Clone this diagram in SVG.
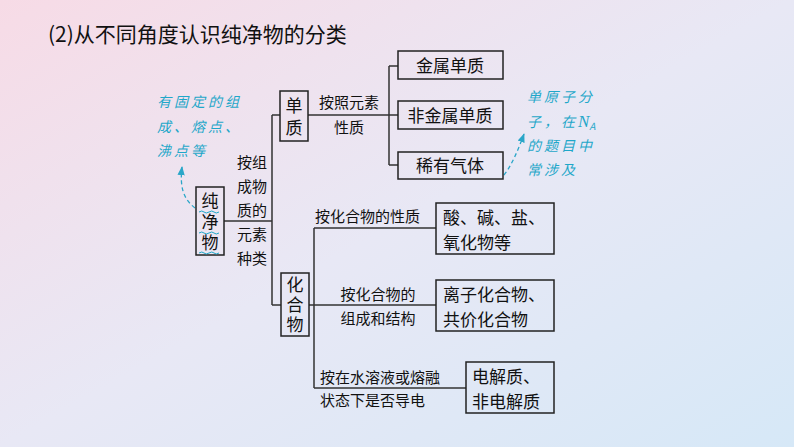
<svg xmlns="http://www.w3.org/2000/svg" width="794" height="447" viewBox="0 0 794 447">
<defs>
<linearGradient id="bg" x1="0" y1="0" x2="1" y2="1">
<stop offset="0" stop-color="#f7dbe6"/><stop offset="0.5" stop-color="#e8e8f5"/><stop offset="1" stop-color="#d6e8f7"/>
</linearGradient>
<marker id="ah" viewBox="0 0 10 10" refX="9" refY="5" markerWidth="7" markerHeight="7" orient="auto"><path d="M0,1 L10,5 L0,9 z" fill="#2aa6c8"/></marker>
<style>
.b{fill:none;stroke:#222;stroke-width:1.5}
.l{fill:none;stroke:#333;stroke-width:1.5}
.t{font-family:"Noto Sans CJK SC",sans-serif;font-size:17px;fill:#111}
.s{font-family:"Noto Sans CJK SC",sans-serif;font-size:15px;fill:#111}
.c{font-family:"Noto Sans CJK SC",sans-serif;font-size:14px;fill:#1fa7c9;font-style:italic;letter-spacing:3px}
.d{fill:none;stroke:#2aa6c8;stroke-width:1.3;stroke-dasharray:4 3}
</style>
</defs>
<rect width="794" height="447" fill="url(#bg)"/>
<text x="48" y="42" style="font-family:'Noto Sans CJK SC',sans-serif;font-size:21px;fill:#111">(2)从不同角度认识纯净物的分类</text>
<g id="connectors">
<path class="l" d="M224,221 H272 M272,115 V305 M272,115 H280 M272,305 H281 M308,115 H398 M389,66 V165 M389,66 H398 M389,165 H398 M309,305 H436 M314,228 V388 M314,228 H436 M314,388 H466"/>
<path class="d" d="M195,208 C182,198 180,185 182,167" marker-end="url(#ah)"/>
<path class="d" d="M504,175 C512,165 518,150 524,134" marker-end="url(#ah)"/>
</g>
<g id="chunjingwu"><rect class="b" x="196" y="187" width="28" height="68"/>
<text class="t" x="210" y="207" text-anchor="middle">纯</text><text class="t" x="210" y="228" text-anchor="middle">净</text><text class="t" x="210" y="249" text-anchor="middle">物</text>
<path d="M199,212 q3,-2 5,0 t5,0 t5,0 t5,0 M199,233 q3,-2 5,0 t5,0 t5,0 t5,0 M199,253 q3,-2 5,0 t5,0 t5,0 t5,0" fill="none" stroke="#1fa7c9" stroke-width="1"/></g>
<g id="label1"><text class="s" x="252" y="168" text-anchor="middle">按组</text><text class="s" x="252" y="192" text-anchor="middle">成物</text><text class="s" x="252" y="216" text-anchor="middle">质的</text><text class="s" x="252" y="240" text-anchor="middle">元素</text><text class="s" x="252" y="264" text-anchor="middle">种类</text></g>
<g id="danzhi"><rect class="b" x="280" y="91" width="28" height="50"/><text class="t" x="294" y="112" text-anchor="middle">单</text><text class="t" x="294" y="134" text-anchor="middle">质</text></g>
<g id="label2"><text class="s" x="349" y="108" text-anchor="middle">按照元素</text><text class="s" x="349" y="133" text-anchor="middle">性质</text></g>
<g id="jinshu"><rect class="b" x="398" y="51" width="105" height="28"/><text class="t" x="450" y="72" text-anchor="middle">金属单质</text></g>
<g id="feijinshu"><rect class="b" x="398" y="101" width="105" height="28"/><text class="t" x="450" y="122" text-anchor="middle">非金属单质</text></g>
<g id="xiyou"><rect class="b" x="398" y="152" width="105" height="27"/><text class="t" x="450" y="172" text-anchor="middle">稀有气体</text></g>
<g id="huahewu"><rect class="b" x="281" y="273" width="28" height="63"/><text class="t" x="295" y="291" text-anchor="middle" font-size="16">化</text><text class="t" x="295" y="311" text-anchor="middle" font-size="16">合</text><text class="t" x="295" y="331" text-anchor="middle" font-size="16">物</text></g>
<g id="label3"><text class="s" x="315" y="222">按化合物的性质</text></g>
<g id="suan"><rect class="b" x="436" y="203" width="118" height="51"/><text class="t" x="443" y="224">酸、碱、盐、</text><text class="t" x="443" y="249">氧化物等</text></g>
<g id="label4"><text class="s" x="378" y="300" text-anchor="middle">按化合物的</text><text class="s" x="378" y="324" text-anchor="middle">组成和结构</text></g>
<g id="lizi"><rect class="b" x="436" y="280" width="118" height="51"/><text class="t" x="443" y="301">离子化合物、</text><text class="t" x="443" y="326">共价化合物</text></g>
<g id="label5"><text class="s" x="320" y="383">按在水溶液或熔融</text><text class="s" x="320" y="406">状态下是否导电</text></g>
<g id="dianjie"><rect class="b" x="466" y="362" width="88" height="51"/><text class="t" x="472" y="383">电解质、</text><text class="t" x="472" y="408">非电解质</text></g>
<g id="note1"><text class="c" x="157" y="107">有固定的组</text><text class="c" x="157" y="132">成、熔点、</text><text class="c" x="157" y="156">沸点等</text></g>
<g id="note2"><text class="c" x="527" y="102">单原子分</text><text class="c" x="527" y="127">子，在<tspan font-family="Liberation Serif" font-size="17" letter-spacing="0">N</tspan><tspan font-size="10" dy="3" letter-spacing="0">A</tspan></text><text class="c" x="527" y="151">的题目中</text><text class="c" x="527" y="175">常涉及</text></g>
</svg>
